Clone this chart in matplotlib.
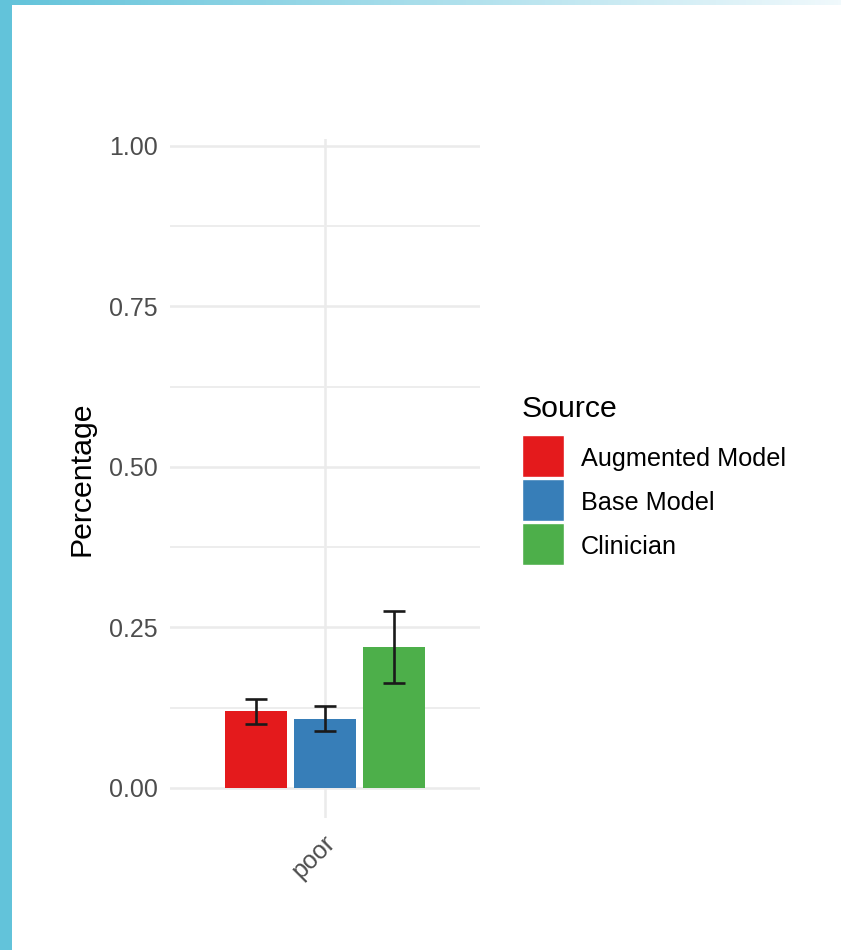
import matplotlib.pyplot as plt
import numpy as np
from matplotlib.colors import LinearSegmentedColormap
from matplotlib.legend_handler import HandlerPatch
from matplotlib.patches import Patch, Rectangle
from matplotlib.transforms import ScaledTranslation

plt.rcParams["font.family"] = ["Liberation Sans", "DejaVu Sans"]

categories = ["poor"]
sources = ["Augmented Model", "Base Model", "Clinician"]
values = [0.120, 0.107, 0.220]
err_low = [0.099, 0.089, 0.164]
err_high = [0.139, 0.127, 0.276]
colors = ["#E41A1C", "#377EB8", "#4DAF4A"]
yticks = [0.00, 0.25, 0.50, 0.75, 1.00]

W, H = 841, 950
fig = plt.figure(figsize=(W / 100, H / 100), dpi=100)

# frame decoration: left band and top gradient
band = LinearSegmentedColormap.from_list("band", ["#62c3da", "#f0f9fc"])
top = fig.add_axes([0, 1 - 5 / H, 1, 5 / H])
top.imshow(np.linspace(0, 1, 256).reshape(1, -1), cmap=band, aspect="auto")
top.axis("off")
fig.add_artist(Rectangle((0, 0), 12 / W, 1, transform=fig.transFigure,
                         color="#62c3da", lw=0, zorder=5))

ax = fig.add_axes([170 / W, (H - 818) / H, 310 / W, (818 - 139) / H])

offset = 0.267
bw = 0.238
for i, (src, v, lo, hi, c) in enumerate(zip(sources, values, err_low, err_high, colors)):
    x = (i - 1) * offset
    ax.bar(x, v, width=bw, color=c, zorder=2)
    ax.errorbar(x, v, yerr=[[v - lo], [hi - v]], fmt="none", ecolor="#1a1a1a",
                elinewidth=1.9, capsize=8, capthick=1.9, zorder=3)

ax.set_xlim(-0.6, 0.6)
ax.set_ylim(-0.047, 1.0105)
ax.set_xticks([0])
ax.set_xticklabels(categories, rotation=45, ha="right", va="center",
                   rotation_mode="anchor")
ax.set_yticks(yticks)
ax.set_yticklabels([f"{t:.2f}" for t in yticks])
ax.set_yticks([0.125, 0.375, 0.625, 0.875], minor=True)
ax.tick_params(axis="both", length=0, labelsize=18, labelcolor="#4d4d4d")
ax.tick_params(axis="y", pad=9)
ax.tick_params(axis="x", pad=16)
ax.tick_params(which="minor", length=0)
# after tick_params, which would reset the label transform
for lab in ax.get_xticklabels():
    lab.set_transform(lab.get_transform() + ScaledTranslation(6 / 100, 1.5 / 100, fig.dpi_scale_trans))
ax.grid(True, which="major", color="#ebebeb", lw=1.8, zorder=0)
ax.grid(True, which="minor", axis="y", color="#ededed", lw=1.4, zorder=0)
ax.set_axisbelow(True)
for s in ax.spines.values():
    s.set_visible(False)

ax.set_ylabel("Percentage", fontsize=21.8, color="black")
ax.yaxis.set_label_coords(-0.239, 0.5)


def key_box(legend, orig_handle, xdescent, ydescent, width, height, fontsize):
    # nudge the key up a little so labels sit centred on it
    return Rectangle((-xdescent, -ydescent + 1.4), width, height)


handles = [Patch(facecolor=c, edgecolor="white", lw=1) for c in colors]
leg = ax.legend(handles, sources, loc="upper left",
                bbox_to_anchor=(522 / W, (H - 437) / H),
                bbox_transform=fig.transFigure, frameon=False,
                fontsize=18.2, handlelength=1.66, handleheight=2.176,
                labelspacing=0.08, handletextpad=0.68,
                borderpad=0, borderaxespad=0,
                handler_map={Patch: HandlerPatch(patch_func=key_box)})
fig.text(522 / W, (H - 417) / H, "Source", fontsize=21.8, ha="left",
         va="baseline")

fig.savefig("out.png", dpi=100)
